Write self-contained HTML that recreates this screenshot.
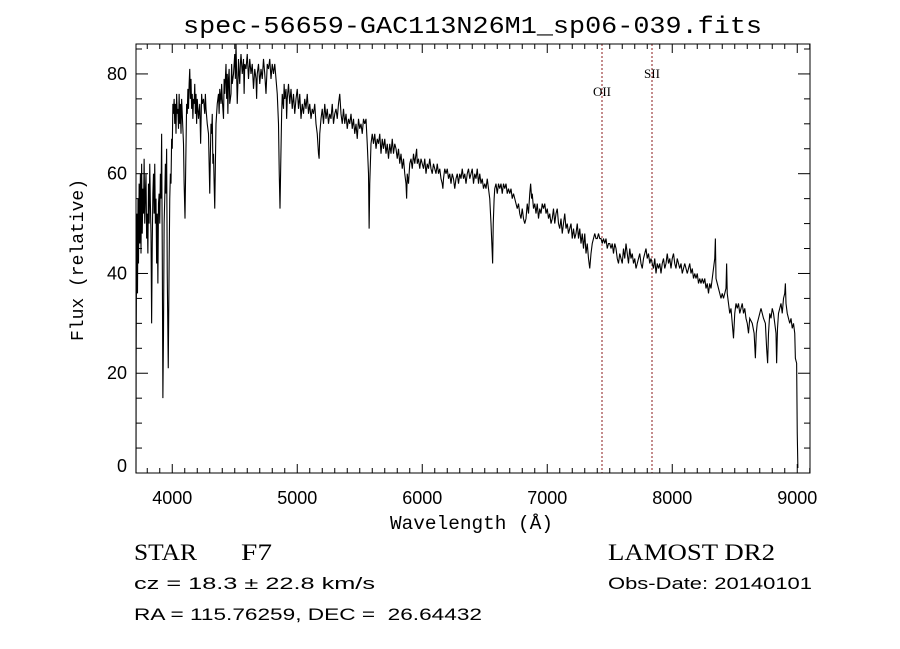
<!DOCTYPE html>
<html><head><meta charset="utf-8"><style>
html,body{margin:0;padding:0;background:#fff;}
svg{display:block;}
text{fill:#000;}
</style></head><body>
<svg id="chart" width="900" height="649" viewBox="0 0 900 649" xmlns="http://www.w3.org/2000/svg">
<rect width="900" height="649" fill="#fff"/>
<text x="183" y="33" textLength="579" lengthAdjust="spacingAndGlyphs" font-family="Liberation Mono, monospace" font-size="24">spec-56659-GAC113N26M1_sp06-039.fits</text>
<g id="ticks"></g>
<g id="lines"></g>
<path id="spec" fill="none" stroke="#000" stroke-width="1.1"/>
<rect x="136" y="44" width="674" height="429" fill="none" stroke="#000" stroke-width="1"/>
<text x="390" y="529" textLength="163" lengthAdjust="spacingAndGlyphs" font-family="Liberation Mono, monospace" font-size="19">Wavelength (Å)</text>
<text transform="translate(83,260) rotate(-90)" text-anchor="middle" font-family="Liberation Mono, monospace" font-size="18">Flux (relative)</text>
<text x="134" y="560" textLength="63" lengthAdjust="spacingAndGlyphs" font-family="Liberation Serif, serif" font-size="23">STAR</text>
<text x="241" y="560" textLength="31" lengthAdjust="spacingAndGlyphs" font-family="Liberation Serif, serif" font-size="23">F7</text>
<text x="608" y="560" textLength="167" lengthAdjust="spacingAndGlyphs" font-family="Liberation Serif, serif" font-size="23">LAMOST DR2</text>
<text x="134" y="589" textLength="241" lengthAdjust="spacingAndGlyphs" font-family="Liberation Sans, sans-serif" font-size="17">cz = 18.3 ± 22.8 km/s</text>
<text x="608" y="589" textLength="204" lengthAdjust="spacingAndGlyphs" font-family="Liberation Sans, sans-serif" font-size="17">Obs-Date: 20140101</text>
<text x="134" y="620" textLength="348" lengthAdjust="spacingAndGlyphs" font-family="Liberation Sans, sans-serif" font-size="17" xml:space="preserve">RA = 115.76259, DEC =  26.64432</text>
</svg>
<script>
const xTicks=[4000,5000,6000,7000,8000,9000];
const yTicks=[0,20,40,60,80];
const lineNames=["OII","SII"];
const lineWaves=[7438,7838];
const wave=[3710,3711,3714,3718,3722,3726,3730,3735,3740,3745,3750,3755,3760,3765,3770,3775,3780,3785,3790,3795,3800,3805,3810,3815,3820,3825,3830,3835,3840,3845,3850,3855,3860,3865,3870,3875,3880,3885,3890,3895,3900,3905,3910,3915,3920,3925,3930,3935,3940,3945,3950,3955,3960,3968,3975,3980,3985,3990,3995,4000,4005,4010,4015,4020,4025,4030,4035,4040,4045,4050,4055,4060,4065,4070,4075,4080,4090,4095,4102,4108,4115,4120,4125,4130,4135,4140,4145,4150,4155,4160,4165,4170,4175,4180,4185,4190,4195,4200,4210,4220,4227,4235,4240,4250,4260,4265,4270,4280,4290,4295,4300,4305,4310,4315,4320,4325,4330,4335,4340,4345,4350,4360,4370,4375,4380,4390,4395,4400,4410,4415,4420,4430,4435,4440,4445,4450,4455,4460,4470,4475,4480,4490,4500,4505,4510,4515,4520,4525,4530,4535,4540,4545,4550,4560,4570,4575,4580,4590,4600,4610,4620,4630,4640,4650,4660,4670,4675,4680,4690,4700,4710,4720,4730,4740,4750,4760,4770,4780,4790,4800,4810,4820,4830,4840,4850,4856,4862,4868,4875,4880,4890,4895,4900,4910,4915,4920,4930,4940,4950,4960,4970,4980,4990,5000,5010,5020,5030,5040,5050,5060,5070,5080,5090,5100,5110,5120,5130,5140,5150,5160,5170,5175,5180,5190,5200,5210,5220,5230,5240,5250,5260,5270,5280,5290,5300,5310,5320,5330,5340,5350,5360,5370,5380,5390,5400,5410,5420,5430,5440,5450,5460,5470,5480,5490,5500,5510,5520,5530,5540,5550,5560,5570,5575,5580,5590,5600,5610,5620,5630,5640,5650,5660,5670,5680,5690,5700,5710,5720,5730,5740,5750,5760,5770,5780,5790,5800,5810,5820,5830,5840,5850,5860,5870,5875,5880,5890,5900,5910,5920,5930,5940,5955,5960,5970,5980,5990,6000,6010,6020,6030,6040,6050,6060,6070,6080,6090,6100,6110,6120,6130,6140,6150,6160,6165,6170,6180,6190,6200,6210,6220,6230,6240,6250,6260,6270,6280,6290,6300,6310,6320,6330,6340,6350,6360,6370,6380,6390,6400,6410,6420,6430,6440,6450,6460,6470,6480,6490,6500,6510,6520,6530,6540,6550,6560,6563,6568,6575,6580,6590,6600,6610,6620,6630,6640,6650,6660,6670,6680,6690,6700,6710,6720,6730,6740,6750,6760,6770,6780,6790,6800,6810,6820,6830,6840,6850,6860,6867,6875,6880,6890,6900,6910,6920,6930,6940,6950,6960,6970,6980,6990,7000,7010,7020,7030,7040,7050,7060,7070,7080,7090,7100,7110,7120,7130,7140,7150,7160,7170,7180,7190,7200,7210,7220,7230,7240,7250,7260,7270,7280,7290,7300,7310,7320,7330,7340,7350,7360,7370,7380,7390,7400,7410,7420,7430,7440,7450,7460,7470,7480,7490,7500,7510,7520,7530,7540,7550,7560,7570,7580,7590,7600,7610,7620,7630,7640,7650,7660,7670,7680,7690,7700,7710,7720,7730,7740,7750,7760,7770,7780,7790,7800,7810,7820,7830,7840,7850,7860,7870,7880,7890,7900,7910,7920,7930,7940,7950,7960,7970,7980,7990,8000,8010,8020,8030,8040,8050,8060,8070,8080,8090,8100,8110,8120,8130,8140,8150,8160,8170,8180,8190,8200,8210,8220,8230,8240,8250,8260,8270,8280,8290,8300,8310,8320,8330,8340,8345,8350,8360,8370,8380,8390,8400,8410,8420,8430,8435,8440,8450,8460,8470,8480,8490,8500,8510,8520,8530,8540,8550,8560,8570,8580,8590,8600,8610,8620,8640,8655,8665,8672,8680,8690,8700,8710,8720,8730,8745,8755,8763,8770,8780,8790,8800,8810,8820,8830,8835,8842,8850,8860,8870,8880,8890,8900,8905,8910,8920,8930,8940,8950,8960,8970,8980,8985,8995,9000,9005];
const flux=[0,23,40,52,36,55,42,58,46,60,44,62,48,57,52,63,50,56,60,47,52,44,58,50,62,54,48,30,46,56,60,52,62,50,55,42,52,38,54,56,50,60,55,68,45,15,28,50,55,62,56,65,40,21,42,55,60,58,67,65,74,72,75,70,74,68,76,72,73,69,76,70,74,68,75,72,66,58,51,62,74,72,77,73,78,81,75,79,73,76,71,75,74,78,72,76,70,75,71,74,66,76,74,75,72,76,73,70,68,62,56,64,70,68,72,62,64,58,53,62,70,74,76,72,77,74,78,75,71,79,76,82,75,80,72,79,81,74,76,82,78,80,84,79,86,80,74,78,83,80,78,82,84,80,83,76,82,81,84,79,83,80,82,77,81,79,75,80,82,78,81,79,83,80,76,82,81,83,79,82,80,82,79,76,70,60,53,62,72,76,73,78,75,77,71,75,78,74,77,73,76,72,75,77,73,76,71,74,72,75,73,76,72,74,71,73,72,74,70,68,64,63,68,71,73,70,74,71,73,70,72,71,74,70,72,73,71,74,76,72,70,73,70,72,69,71,70,72,69,71,68,70,67,71,69,70,68,71,70,71,66,60,49,58,66,68,66,68,65,67,66,68,64,67,65,67,64,66,63,66,64,67,64,66,65,63,65,62,64,61,63,60,58,55,60,58,62,63,61,64,62,65,62,63,61,63,62,61,63,60,62,61,63,61,60,62,61,60,62,60,61,59,58,57,59,61,60,61,59,60,58,60,59,57,59,60,58,60,59,61,59,60,58,60,61,59,60,61,58,60,59,61,58,60,58,59,57,58,57,59,57,55,50,44,42,50,55,57,58,56,58,57,58,56,58,57,58,56,57,56,57,55,56,55,54,53,54,52,51,53,51,50,51,54,52,56,58,55,56,53,54,52,54,51,53,52,54,53,54,52,53,51,52,50,51,53,50,52,53,50,49,51,48,50,52,49,50,48,49,50,47,49,47,48,50,47,49,46,48,45,48,44,46,43,41,44,46,47,48,47,47,48,47,47,46,47,46,47,45,46,46,45,46,44,46,45,43,42,44,43,42,45,43,46,44,42,45,43,44,42,43,41,42,43,44,42,41,43,44,45,43,44,42,43,42,41,43,40,42,41,42,40,42,43,41,42,44,42,43,41,43,44,42,41,43,42,41,42,40,41,42,41,40,41,42,40,41,39,40,39,40,38,39,38,39,38,39,37,38,36,38,37,39,41,43,47,39,38,37,36,35,36,35,36,37,42,36,34,32,33,30,27,32,34,33,34,32,33,34,32,33,31,30,28,31,30,28,23,28,30,31,32,33,32,31,30,25,22,28,32,31,33,32,30,28,22,29,32,33,34,32,35,36,38,34,32,31,30,31,29,30,28,23,22,8,1];
const X0=136,X1=810,Y0=473,Y1=44,W0=3710,W1=9102,F0=0,F1=86;
function xs(w){return X0+(w-W0)/(W1-W0)*(X1-X0);}
function ys(f){return Y0-(f-F0)/(F1-F0)*(Y0-Y1);}
const NS="http://www.w3.org/2000/svg";
const tg=document.getElementById('ticks');
function ln(x1,y1,x2,y2,name){const l=document.createElementNS(NS,'line');l.setAttribute('x1',x1);l.setAttribute('y1',y1);l.setAttribute('x2',x2);l.setAttribute('y2',y2);l.setAttribute('stroke','#000');l.setAttribute('stroke-width','1');


tg.appendChild(l);}
for(let w=3800;w<=9100;w+=100){const x=xs(w);const major=(w%1000===0);const len=major?9:5;ln(x,Y0,x,Y0-len,'x-tick');ln(x,Y1,x,Y1+len,'x-tick-top');}
for(let f=5;f<=85;f+=5){const y=ys(f);const major=(f%20===0);const len=major?12:6;ln(X0,y,X0+len,y,'y-tick');ln(X1,y,X1-len,y,'y-tick-right');}
xTicks.forEach(v=>{const t=document.createElementNS(NS,'text');t.setAttribute('x',xs(v));t.setAttribute('y',504);t.setAttribute('text-anchor','middle');t.setAttribute('font-family','Liberation Sans, sans-serif');t.setAttribute('font-size','18');t.textContent=v;


tg.appendChild(t);});
yTicks.forEach(v=>{const t=document.createElementNS(NS,'text');t.setAttribute('x',127);t.setAttribute('y',Math.min(ys(v)+6,472));t.setAttribute('text-anchor','end');t.setAttribute('font-family','Liberation Sans, sans-serif');t.setAttribute('font-size','18');t.textContent=v;


tg.appendChild(t);});
const lg=document.getElementById('lines');
lineWaves.forEach((w,i)=>{const x=xs(w);const l=document.createElementNS(NS,'line');l.setAttribute('x1',x);l.setAttribute('x2',x);l.setAttribute('y1',Y1);l.setAttribute('y2',Y0);l.setAttribute('stroke','#8b1a1a');l.setAttribute('stroke-dasharray','2,2');l.setAttribute('stroke-width','1');


lg.appendChild(l);
const t=document.createElementNS(NS,'text');t.setAttribute('x',x);t.setAttribute('y',i===0?96:78);t.setAttribute('text-anchor','middle');t.setAttribute('font-family','Liberation Serif, serif');t.setAttribute('font-size','13');t.textContent=lineNames[i];


lg.appendChild(t);});
let d='';
for(let i=0;i<wave.length;i++){d+=(i?'L':'M')+xs(wave[i]).toFixed(2)+','+ys(flux[i]).toFixed(2);}
document.getElementById('spec').setAttribute('d',d);
</script>
</body></html>
